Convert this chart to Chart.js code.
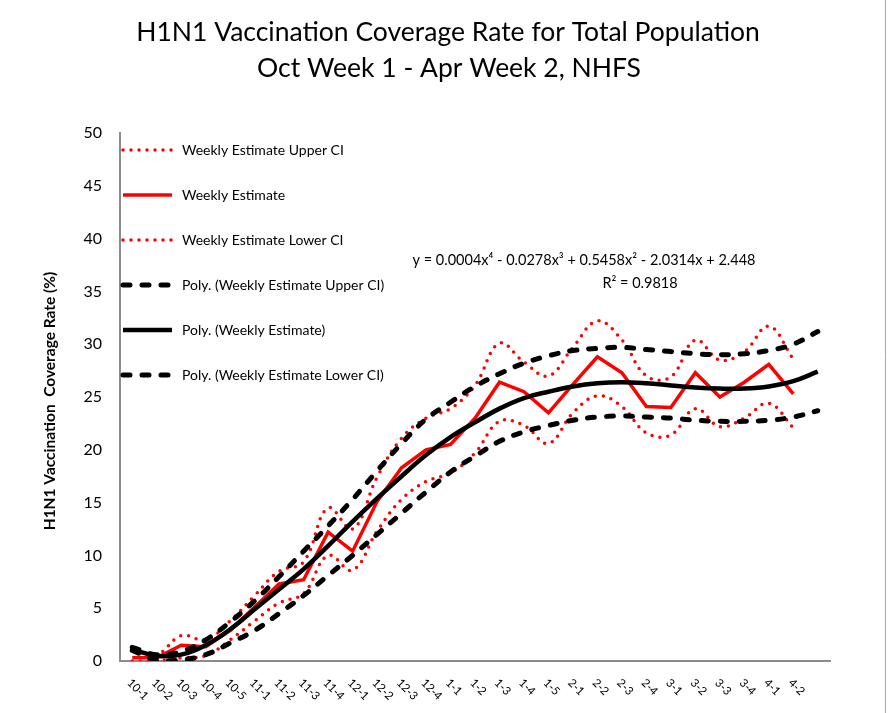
<!DOCTYPE html>
<html>
<head>
<meta charset="utf-8">
<script src="https://cdn.jsdelivr.net/npm/chart.js@4.4.1/dist/chart.umd.min.js"></script>
<style>
  html, body { margin: 0; padding: 0; background: #fff; }
  #wrap { width: 888px; height: 713px; position: relative; }
</style>
</head>
<body>
<div id="wrap"><canvas id="coverageChart" width="888" height="713"></canvas></div>
<script>
// week labels (month-week); last slot is the trendline's forward period
const weeks = ['10-1', '10-2', '10-3', '10-4', '10-5', '11-1', '11-2', '11-3', '11-4',
  '12-1', '12-2', '12-3', '12-4', '1-1', '1-2', '1-3', '1-4', '1-5', '2-1', '2-2', '2-3',
  '2-4', '3-1', '3-2', '3-3', '3-4', '4-1', '4-2', ''];

const weeklyUpper = [1.0, 0.6, 2.4, 2.0, 3.8, 6.2, 8.5, 9.4, 14.5, 12.5, 17.4, 21.1, 23.0, 23.9,
  26.1, 30.1, 28.3, 27.0, 29.7, 32.2, 30.4, 27.0, 26.9, 30.4, 28.5, 29.3, 31.7, 28.6];
const weekly = [0.3, 0.3, 1.5, 1.35, 2.9, 5.1, 7.3, 7.7, 12.2, 10.4, 15.1, 18.3, 20.0, 20.5,
  23.0, 26.4, 25.5, 23.5, 26.2, 28.8, 27.3, 24.1, 24.0, 27.3, 25.0, 26.4, 28.1, 25.3];
const weeklyLower = [0.0, 0.0, 0.3, 0.5, 2.0, 3.8, 5.5, 6.4, 10.0, 8.6, 12.3, 15.3, 17.0, 17.8,
  19.7, 22.7, 22.3, 20.6, 23.5, 25.1, 24.1, 21.6, 21.4, 23.9, 22.2, 23.0, 24.4, 22.1];

const polyUpper = [1.3, 0.6, 0.9, 2.0, 3.7, 5.7, 8.0, 10.4, 12.8, 15.3, 18.0, 20.6, 22.9, 24.5,
  26.0, 27.2, 28.2, 28.9, 29.4, 29.6, 29.7, 29.5, 29.3, 29.1, 29.0, 29.1, 29.4, 30.0, 31.2];
const polyWeekly = [1.1, 0.5, 0.6, 1.5, 3.0, 4.9, 6.8, 8.7, 10.9, 13.2, 15.4, 17.5, 19.5, 21.2,
  22.6, 23.9, 24.9, 25.5, 26.0, 26.3, 26.4, 26.3, 26.1, 25.9, 25.8, 25.8, 26.0, 26.5, 27.4];
const polyLower = [1.0, 0.1, 0.1, 0.6, 1.7, 2.9, 4.5, 6.2, 8.1, 10.0, 12.0, 14.0, 16.0, 17.9,
  19.4, 20.8, 21.7, 22.3, 22.8, 23.1, 23.2, 23.1, 23.0, 22.8, 22.7, 22.7, 22.8, 23.1, 23.7];

const titleLines = ['H1N1 Vaccination Coverage Rate for Total Population', 'Oct Week 1 - Apr Week 2, NHFS'];
const yTitle = 'H1N1 Vaccination  Coverage Rate (%)';
const equationLines = ['y = 0.0004x\u2074 - 0.0278x\u00b3 + 0.5458x\u00b2 - 2.0314x + 2.448', 'R\u00b2 = 0.9818'];

const FONT = 'Lato, "Open Sans", sans-serif';

const overlay = {
  id: 'overlay',
  afterDraw(chart) {
    const ctx = chart.ctx;
    const x = chart.scales.x;
    ctx.save();
    ctx.fillStyle = '#000';

    // title
    ctx.font = '26.5px ' + FONT;
    ctx.textAlign = 'center';
    ctx.textBaseline = 'middle';
    ctx.fillText(titleLines[0], 448, 32);
    ctx.fillText(titleLines[1], 449, 68);

    // y axis title
    ctx.save();
    ctx.translate(50, 401);
    ctx.rotate(-Math.PI / 2);
    ctx.font = 'bold 15.5px ' + FONT;
    ctx.fillText(yTitle, 0, 0);
    ctx.restore();

    // trendline equation
    ctx.font = '14.5px ' + FONT;
    ctx.fillText(equationLines[0], 584, 260);
    ctx.fillText(equationLines[1], 640, 283);

    // x tick labels, rotated 45 deg clockwise, starting at the tick
    ctx.font = '11.5px ' + FONT;
    weeks.forEach((w, i) => {
      if (!w) return;
      const px = x.getPixelForTick(i);
      ctx.save();
      ctx.translate(px - 3, 681);
      ctx.rotate(Math.PI / 4);
      ctx.textAlign = 'left';
      ctx.fillText(w, 0, 0);
      ctx.restore();
    });

    // legend in the upper left of the plot
    ctx.font = '14px ' + FONT;
    ctx.textAlign = 'left';
    chart.data.datasets.forEach((ds, i) => {
      const y = 150 + i * 45;
      ctx.save();
      ctx.strokeStyle = ds.borderColor;
      ctx.lineWidth = ds.borderWidth;
      ctx.lineCap = ds.borderCapStyle || 'butt';
      ctx.setLineDash(ds.borderDash || []);
      ctx.beginPath();
      ctx.moveTo(123, y);
      ctx.lineTo(172, y);
      ctx.stroke();
      ctx.restore();
      ctx.fillText(ds.label, 182, y);
    });

    // chart frame on the right
    ctx.strokeStyle = '#a6a6a6';
    ctx.lineWidth = 1;
    ctx.beginPath();
    ctx.moveTo(885.5, 0);
    ctx.lineTo(885.5, 713);
    ctx.stroke();
    ctx.restore();
  }
};

const dotted = { borderDash: [0, 8], borderCapStyle: 'round', borderWidth: 3.5 };
const dashed = { borderDash: [7, 12], borderCapStyle: 'round', borderWidth: 5 };

new Chart(document.getElementById('coverageChart').getContext('2d'), {
  type: 'line',
  data: {
    labels: weeks,
    datasets: [
      { label: 'Weekly Estimate Upper CI', data: weeklyUpper, borderColor: '#ff0000', tension: 0.4, order: 3, ...dotted },
      { label: 'Weekly Estimate', data: weekly, borderColor: '#ff0000', borderWidth: 3.5, tension: 0, order: 3 },
      { label: 'Weekly Estimate Lower CI', data: weeklyLower, borderColor: '#ff0000', tension: 0.4, order: 3, ...dotted },
      { label: 'Poly. (Weekly Estimate Upper CI)', data: polyUpper, borderColor: '#000', tension: 0.4, order: 1, ...dashed },
      { label: 'Poly. (Weekly Estimate)', data: polyWeekly, borderColor: '#000', borderWidth: 4.5, tension: 0.4, order: 1 },
      { label: 'Poly. (Weekly Estimate Lower CI)', data: polyLower, borderColor: '#000', tension: 0.4, order: 1, ...dashed }
    ]
  },
  options: {
    responsive: false,
    animation: false,
    layout: { padding: { top: 133, right: 58, left: 0, bottom: 0 } },
    elements: { point: { radius: 0 }, line: { fill: false } },
    plugins: { legend: { display: false }, tooltip: { enabled: false } },
    scales: {
      x: {
        offset: true,
        grid: { display: false, drawTicks: false },
        border: { color: '#8c8c8c', width: 2 },
        ticks: { display: false },
        afterFit(scale) { scale.height = 52; }
      },
      y: {
        min: 0,
        max: 50,
        grid: { display: false, drawTicks: false },
        border: { color: '#8c8c8c', width: 2 },
        ticks: { stepSize: 5, padding: 18, color: '#000', font: { size: 16, family: FONT } },
        afterFit(scale) { scale.width = 120; }
      }
    }
  },
  plugins: [overlay]
});
</script>
</body>
</html>
